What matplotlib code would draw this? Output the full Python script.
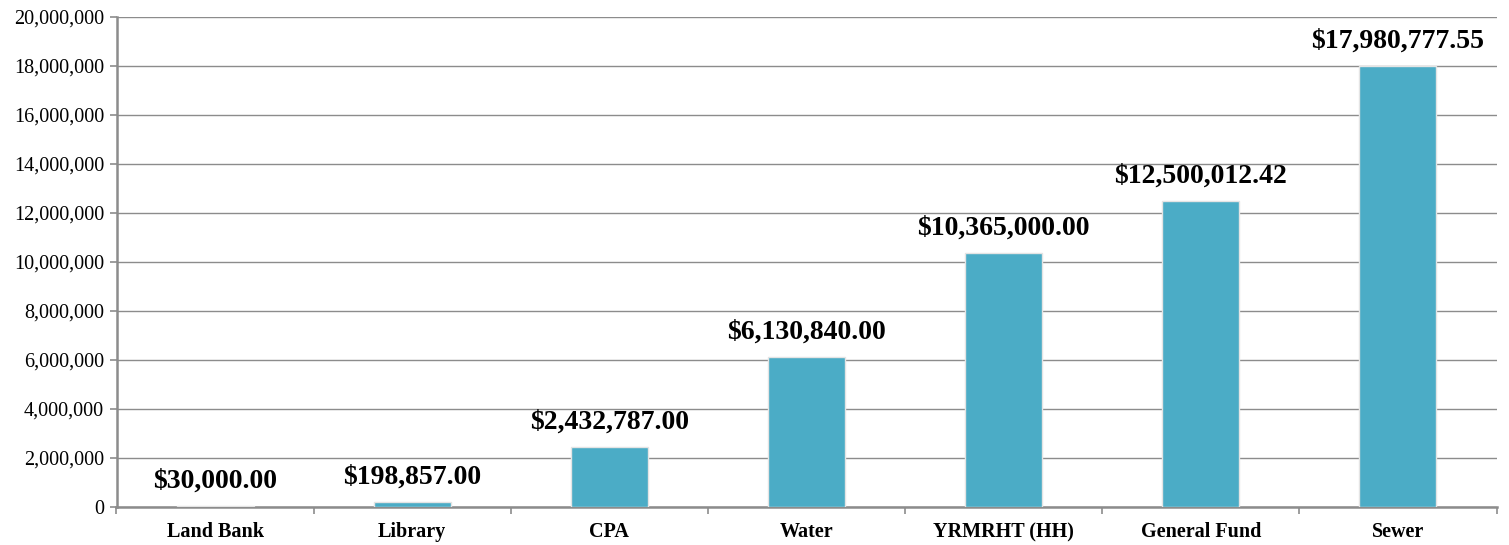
import matplotlib
matplotlib.use('Agg')
import matplotlib.pyplot as plt
from matplotlib.ticker import FuncFormatter, MultipleLocator
import numpy as np

categories = ['Land Bank', 'Library', 'CPA', 'Water', 'YRMRHT (HH)', 'General Fund', 'Sewer']
values = [30000.00, 198857.00, 2432787.00, 6130840.00, 10365000.00, 12500012.42, 17980777.55]

bar_color = '#4BACC6'
grid_color = '#8C8C8C'

plt.rcParams['font.family'] = ['Liberation Serif', 'DejaVu Serif']

fig = plt.figure(figsize=(15.09, 5.45), dpi=100)
ax = fig.add_axes([116.5 / 1509, 38 / 545, 1380 / 1509, 490 / 545])

x = np.arange(len(categories))
bars = ax.bar(x, values, width=0.39, color=bar_color, edgecolor='#E4E4E4',
              linewidth=1.0, zorder=3)

for xi, v in zip(x, values):
    ax.annotate(f'${v:,.2f}', (xi, v), xytext=(0, 9), textcoords='offset points',
                ha='center', va='bottom', fontsize=20, fontweight='bold', zorder=4)

ax.set_xlim(-0.5, len(categories) - 0.5)
ax.set_ylim(0, 20000000)
ax.yaxis.set_major_locator(MultipleLocator(2000000))
ax.yaxis.set_major_formatter(FuncFormatter(lambda v, p: f'{int(v):,}'))
ax.grid(axis='y', color=grid_color, linewidth=1.0, zorder=0)

ax.set_xticks(x)
ax.set_xticklabels(categories, fontsize=14.5, fontweight='bold')
ax.set_xticks(np.arange(len(categories) + 1) - 0.5, minor=True)
ax.tick_params(axis='x', which='major', length=0, pad=11)
ax.tick_params(axis='x', which='minor', length=5, color=grid_color, width=1.2)
ax.tick_params(axis='y', labelsize=14.5, length=5, color=grid_color, width=1.2, pad=4)

for side in ('top', 'right'):
    ax.spines[side].set_visible(False)
for side in ('left', 'bottom'):
    ax.spines[side].set_color(grid_color)
    ax.spines[side].set_linewidth(1.8)

fig.savefig('out.png', dpi=100)
